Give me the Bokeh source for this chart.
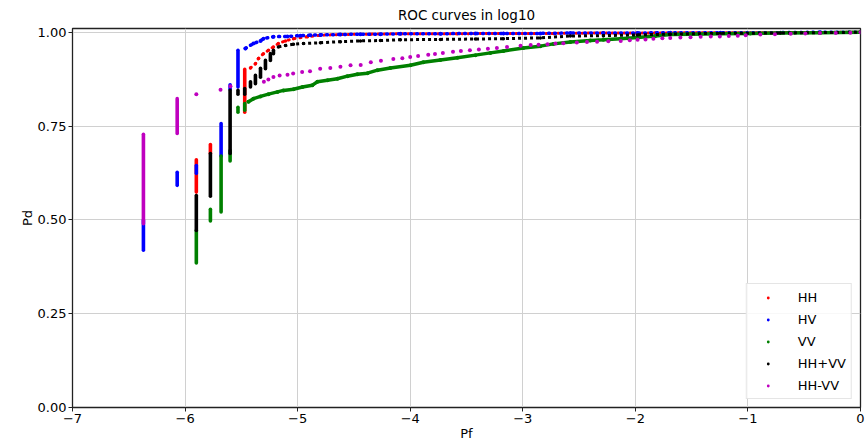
from bokeh.plotting import figure
from bokeh.models import Range1d, FixedTicker, NumeralTickFormatter, Legend, LegendItem
from bokeh.embed import file_html
from bokeh.resources import INLINE

# ---------------- data (log10 Pf, Pd) ----------------
chart_title = "ROC curves in log10"
series_names = ["HH", "HV", "VV", "HH+VV", "HH-VV"]
series_colors = ["#ff0000", "#0000ff", "#008000", "#000000", "#bf00bf"]

# vertical runs of points sharing one Pf value
hh_strip_x = [-5.90, -5.775, -5.47]
hh_strip_lo = [0.574, 0.677, 0.787]
hh_strip_hi = [0.660, 0.701, 0.901]
hh_pf = [-5.419, -5.375, -5.348, -5.304, -5.259, -5.215, -5.171, -5.108, -5.037, -4.913,
         -4.798, -4.620, -4.353, -4.087, -3.581, -3.172, -2.728, -2.284, -1.822, -1.245,
         -0.712, 0.0]
hh_pd = [0.905, 0.916, 0.930, 0.943, 0.952, 0.961, 0.970, 0.977, 0.983, 0.988,
         0.992, 0.994, 0.995, 0.996, 0.996, 0.997, 0.997, 0.998, 0.998, 0.999,
         0.999, 1.0]

hv_strip_x = [-6.37, -6.07, -5.90, -5.68, -5.60, -5.53]
hv_strip_lo = [0.419, 0.592, 0.624, 0.670, 0.848, 0.854]
hv_strip_hi = [0.500, 0.627, 0.645, 0.757, 0.860, 0.952]
hv_pf = [-5.464, -5.393, -5.330, -5.304, -5.215, -5.091, -4.975, -4.886, -4.798, -4.620,
         -4.442, -4.265, -4.087, -3.732, -3.421, -3.172, -2.844, -2.577, -2.284, -1.982,
         -1.689, -1.245, -0.712, -0.357, 0.0]
hv_pd = [0.957, 0.970, 0.977, 0.983, 0.988, 0.989, 0.991, 0.992, 0.993, 0.994,
         0.995, 0.995, 0.996, 0.996, 0.997, 0.997, 0.997, 0.998, 0.998, 0.998,
         0.999, 0.999, 0.999, 1.0, 1.0]

vv_strip_x = [-5.90, -5.775, -5.68, -5.60, -5.53, -5.47]
vv_strip_lo = [0.385, 0.497, 0.521, 0.657, 0.787, 0.792]
vv_strip_hi = [0.472, 0.528, 0.670, 0.685, 0.800, 0.810]
vv_pf = [-5.437, -5.393, -5.330, -5.259, -5.179, -5.126, -5.037, -4.957, -4.869, -4.824,
         -4.735, -4.647, -4.558, -4.469, -4.380, -4.291, -4.176, -3.998, -3.883, -3.732,
         -3.581, -3.421, -3.288, -3.172, -2.995, -2.844, -2.728, -2.577, -2.400, -2.284,
         -2.133, -1.982, -1.822, -1.689, -1.512, -1.245, -0.979, -0.712, -0.357, 0.0]
vv_pd = [0.815, 0.823, 0.829, 0.835, 0.841, 0.845, 0.848, 0.854, 0.859, 0.868,
         0.872, 0.876, 0.883, 0.888, 0.891, 0.899, 0.905, 0.912, 0.920, 0.926,
         0.932, 0.939, 0.945, 0.950, 0.958, 0.963, 0.969, 0.974, 0.978, 0.980,
         0.983, 0.986, 0.990, 0.994, 0.995, 0.996, 0.997, 0.998, 0.999, 1.0]

hhvv_strip_x = [-5.90, -5.775, -5.60, -5.53, -5.47, -5.419, -5.375, -5.330, -5.286, -5.242, -5.215]
hhvv_strip_lo = [0.472, 0.563, 0.677, 0.835, 0.835, 0.854, 0.863, 0.880, 0.903, 0.925, 0.943]
hhvv_strip_hi = [0.565, 0.677, 0.845, 0.845, 0.850, 0.868, 0.885, 0.904, 0.925, 0.943, 0.952]
hhvv_pf = [-5.171, -5.108, -5.037, -4.948, -4.798, -4.620, -4.442, -4.265, -4.087, -3.732,
           -3.421, -3.172, -2.844, -2.577, -2.284, -1.982, -1.689, -1.245, -0.712, -0.357, 0.0]
hhvv_pd = [0.961, 0.965, 0.968, 0.970, 0.972, 0.975, 0.977, 0.978, 0.980, 0.981,
           0.982, 0.983, 0.985, 0.990, 0.991, 0.993, 0.995, 0.997, 0.998, 0.999, 1.0]

hhmvv_strip_x = [-6.37, -6.07]
hhmvv_strip_lo = [0.490, 0.730]
hhmvv_strip_hi = [0.728, 0.823]
hhmvv_pf = [-5.90, -5.685, -5.597, -5.30, -5.26, -5.215, -5.16, -5.09, -5.04, -4.96,
            -4.89, -4.80, -4.71, -4.62, -4.53, -4.44, -4.35, -4.26, -4.15, -4.07,
            -4.00, -3.93, -3.84, -3.78, -3.71, -3.62, -3.55, -3.47, -3.39, -3.31,
            -3.23, -3.14, -3.02, -2.93, -2.86, -2.78, -2.71, -2.64, -2.52, -2.43,
            -2.34, -2.24, -2.13, -2.05, -1.98, -1.91, -1.84, -1.76, -1.69, -1.60,
            -1.51, -1.42, -1.33, -1.25, -1.17, -1.09, -1.02, -0.89, -0.76, -0.62,
            -0.49, -0.36, -0.22, -0.09, 0.0]
hhmvv_pd = [0.835, 0.847, 0.856, 0.868, 0.874, 0.881, 0.885, 0.887, 0.890, 0.894,
            0.896, 0.903, 0.905, 0.908, 0.912, 0.913, 0.920, 0.924, 0.929, 0.931,
            0.934, 0.937, 0.940, 0.942, 0.945, 0.948, 0.950, 0.952, 0.954, 0.956,
            0.958, 0.961, 0.964, 0.966, 0.967, 0.968, 0.970, 0.971, 0.973, 0.974,
            0.975, 0.976, 0.977, 0.979, 0.980, 0.981, 0.983, 0.984, 0.985, 0.986,
            0.987, 0.988, 0.989, 0.989, 0.990, 0.991, 0.992, 0.994, 0.995, 0.996,
            0.997, 0.998, 0.998, 0.999, 1.0]

x_ticks = [-7, -6, -5, -4, -3, -2, -1, 0]
x_tick_labels = ["\u22127", "\u22126", "\u22125", "\u22124", "\u22123", "\u22122", "\u22121", "0"]
y_ticks = [0.0, 0.25, 0.5, 0.75, 1.0]

# ---------------- figure ----------------
FONT = "DejaVu Sans"
p = figure(width=865, height=443, output_backend="svg", toolbar_location=None,
           x_range=Range1d(-7, 0), y_range=Range1d(0, 1.01),
           min_border_left=72, min_border_right=5, min_border_top=28, min_border_bottom=34,
           title=chart_title)
p.title.align = "center"
p.title.vertical_align = "top"
p.title.text_font = FONT
p.title.text_font_size = "13.5px"
p.title.text_font_style = "normal"
p.title.text_color = "#000000"
p.title.offset = 0
p.title.standoff = 8

p.outline_line_color = "#222222"
p.outline_line_width = 1.3
p.background_fill_color = "white"
p.border_fill_color = "white"

for ax in (p.xaxis[0], p.yaxis[0]):
    ax.major_label_text_font = FONT
    ax.major_label_text_font_size = "13px"
    ax.major_label_text_color = "#000000"
    ax.axis_label_text_font = FONT
    ax.axis_label_text_font_size = "13px"
    ax.axis_label_text_font_style = "normal"
    ax.axis_label_text_color = "#000000"
    ax.axis_line_color = "#222222"
    ax.major_tick_line_color = "#222222"
    ax.major_tick_out = 4
    ax.major_tick_in = 0
    ax.minor_tick_out = 0
    ax.minor_tick_in = 0
    ax.axis_label_standoff = 0
    ax.major_label_standoff = 2

p.xaxis.axis_label = "Pf"
p.yaxis.axis_label = "Pd"
p.xaxis.ticker = FixedTicker(ticks=x_ticks)
p.xaxis.major_label_overrides = {t: l for t, l in zip(x_ticks, x_tick_labels)}
p.yaxis.ticker = FixedTicker(ticks=y_ticks)
p.yaxis.formatter = NumeralTickFormatter(format="0.00")

p.xgrid.grid_line_color = "#d0d0d0"
p.ygrid.grid_line_color = "#d0d0d0"
p.xgrid.grid_line_width = 1
p.ygrid.grid_line_width = 1

strips = [(hh_strip_x, hh_strip_lo, hh_strip_hi), (hv_strip_x, hv_strip_lo, hv_strip_hi),
          (vv_strip_x, vv_strip_lo, vv_strip_hi), (hhvv_strip_x, hhvv_strip_lo, hhvv_strip_hi),
          (hhmvv_strip_x, hhmvv_strip_lo, hhmvv_strip_hi)]
traces = [(hh_pf, hh_pd), (hv_pf, hv_pd), (vv_pf, vv_pd), (hhvv_pf, hhvv_pd), (hhmvv_pf, hhmvv_pd)]
trace_styles = [("1 5", 3.0, "round"), ("1 5", 3.5, "round"), ("solid", 3.5, "round"),
                ("3 3", 3.0, "butt"), (None, 0, None)]
dot_sizes = [3.5, 4, 4, 3.5, 4]

items = []
for name, color, (sx, slo, shi), (tx, ty), (dash, lw, cap), ds in zip(
        series_names, series_colors, strips, traces, trace_styles, dot_sizes):
    p.segment(x0=sx, y0=slo, x1=sx, y1=shi, line_color=color, line_width=3.6, line_cap="round")
    if dash is not None:
        p.line(tx, ty, line_color=color, line_width=lw, line_dash=dash, line_cap=cap)
    r = p.scatter(tx, ty, size=ds, fill_color=color, line_color=None)
    items.append(LegendItem(label=name, renderers=[r]))

legend = Legend(items=items, location="bottom_right")
legend.label_text_font = FONT
legend.label_text_font_size = "13px"
legend.label_text_color = "#000000"
legend.glyph_width = 32
legend.glyph_height = 7
legend.label_height = 16
legend.label_standoff = 14
legend.spacing = 6
legend.padding = 5
legend.margin = 8
legend.border_line_color = "#cccccc"
legend.border_line_width = 1
legend.background_fill_alpha = 0.85
p.add_layout(legend, "center")

open("out.html", "w").write(file_html(p, INLINE))
